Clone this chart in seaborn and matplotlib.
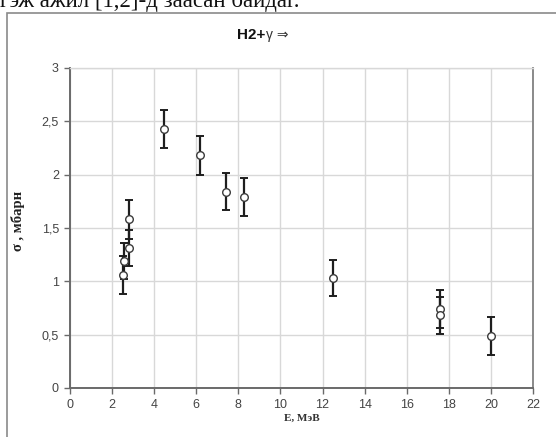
import matplotlib
matplotlib.use("Agg")
import matplotlib.pyplot as plt
import matplotlib.ticker as mticker
from matplotlib.patches import Rectangle
import seaborn as sns
import pandas as pd

energy = [2.5, 2.55, 2.8, 2.8, 4.45, 6.2, 7.4, 8.25, 12.5, 17.6, 17.6, 20.0]
sigma = [1.06, 1.19, 1.31, 1.58, 2.43, 2.18, 1.84, 1.79, 1.03, 0.74, 0.68, 0.49]
sigma_err = [0.18, 0.17, 0.17, 0.18, 0.18, 0.18, 0.175, 0.175, 0.17, 0.175, 0.175, 0.18]

x_ticks = [0, 2, 4, 6, 8, 10, 12, 14, 16, 18, 20, 22]
y_ticks = [0, 0.5, 1, 1.5, 2, 2.5, 3]
y_tick_labels = ["0", "0,5", "1", "1,5", "2", "2,5", "3"]

title_bold = "H2+"
title_rest = "γ ⇒"
x_label = "E, МэВ"
y_label = "σ , мбарн"
top_text = "гэж ажил [1,2]-д заасан байдаг."

df = pd.DataFrame({"E": energy, "sigma": sigma, "err": sigma_err})

sns.set_theme(style="whitegrid")
plt.rcParams["font.family"] = ["Liberation Sans", "DejaVu Sans"]

fig = plt.figure(figsize=(5.56, 4.37), dpi=100)
ax = fig.add_axes([70 / 556, 1 - 388 / 437, 463 / 556, 320 / 437])

# outer chart border
fig.patches.append(Rectangle((7 / 556, -0.1), 1.2, 1 - 13 / 437 + 0.1,
                             transform=fig.transFigure, fill=False,
                             edgecolor="#8a8a8a", linewidth=1.2))

ax.errorbar(df["E"], df["sigma"], yerr=df["err"], fmt="none",
            ecolor="#1e1e1e", elinewidth=1.6, capsize=3, capthick=1.4, zorder=3)
sns.scatterplot(data=df, x="E", y="sigma", ax=ax, s=30, marker="o",
                facecolor="white", edgecolor="#3a3a3a", linewidth=1.0, zorder=4)

ax.set_xlim(0, 22)
ax.set_ylim(0, 3)
ax.set_xticks(x_ticks)
ax.set_yticks(y_ticks)
ax.yaxis.set_major_formatter(mticker.FixedFormatter(y_tick_labels))
ax.grid(True, color="#d8d8d8", linewidth=1.0)

for side in ["left", "bottom"]:
    ax.spines[side].set_color("#6a6a6a")
    ax.spines[side].set_linewidth(1.4)
ax.spines["right"].set_color("#8a8a8a")
ax.spines["right"].set_linewidth(1.4)
ax.spines["top"].set_color("#d8d8d8")
ax.spines["top"].set_linewidth(1.0)

ax.tick_params(axis="both", which="major", direction="out", length=4, width=1,
               color="#6a6a6a", labelsize=9, labelcolor="#444444", pad=4)
ax.tick_params(axis="x", bottom=True)
ax.tick_params(axis="y", left=True)

ax.set_xlabel(x_label, fontsize=8, fontweight="bold", family="Liberation Serif",
              color="#333333", labelpad=2)
ax.set_ylabel(y_label, fontsize=10.5, fontweight="bold", family="Liberation Serif",
              color="#222222")
ax.yaxis.set_label_coords(-0.097, 0.522)

fig.text(265 / 556, 1 - 35 / 437, title_bold, ha="right", va="center",
         fontsize=11, fontweight="bold", color="#111111")
fig.text(266 / 556, 1 - 35 / 437, title_rest, ha="left", va="center",
         fontsize=10, color="#333333")
fig.text(0.0, 1 - 7 / 437, top_text, ha="left", va="baseline",
         fontsize=16.5, family="Liberation Serif", color="#111111")

fig.savefig("out.png", dpi=100)
